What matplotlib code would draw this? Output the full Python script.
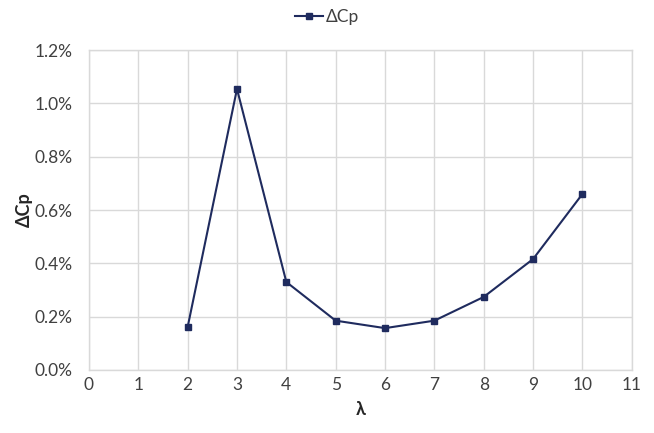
import matplotlib
matplotlib.use("Agg")
import matplotlib.pyplot as plt
from matplotlib.ticker import FuncFormatter

lam = [2, 3, 4, 5, 6, 7, 8, 9, 10]
dcp = [0.161, 1.054, 0.330, 0.185, 0.157, 0.185, 0.274, 0.416, 0.660]  # percent
x_ticks = list(range(0, 12))
y_ticks = [0.0, 0.2, 0.4, 0.6, 0.8, 1.0, 1.2]

plt.rcParams['font.family'] = ['Lato', 'DejaVu Sans']
color = '#1F2B5E'
grid_c = '#D9D9D9'

fig = plt.figure(figsize=(6.54, 4.33), dpi=100)
ax = fig.add_axes([0.136, 0.1455, 0.830, 0.739])
ax.plot(lam, dcp, color=color, lw=1.5, marker='s', markersize=5, label='ΔCp')
ax.set_xlim(0, 11)
ax.set_ylim(0, 1.2)
ax.set_xticks(x_ticks)
ax.set_yticks(y_ticks)
ax.yaxis.set_major_formatter(FuncFormatter(lambda v, p: f"{v:.1f}%"))
ax.grid(True, color=grid_c, lw=1)
ax.set_axisbelow(True)
for s in ax.spines.values():
    s.set_color(grid_c)
    s.set_linewidth(1)
ax.tick_params(length=0, labelsize=12.5, colors='#404040')
ax.tick_params(axis='x', pad=5)
ax.tick_params(axis='y', pad=12)
ax.set_xlabel('λ', fontsize=13, fontweight='bold', color='#262626', labelpad=6)
ax.set_ylabel('ΔCp', fontsize=13, fontweight='bold', color='#262626')
ax.yaxis.set_label_coords(-0.103, 0.5)
fig.legend(loc='upper center', bbox_to_anchor=(0.5, 1.015), frameon=False,
           fontsize=12.5, handlelength=1.6, handletextpad=0.2, labelcolor='#404040')
fig.savefig('out.png', dpi=100)
